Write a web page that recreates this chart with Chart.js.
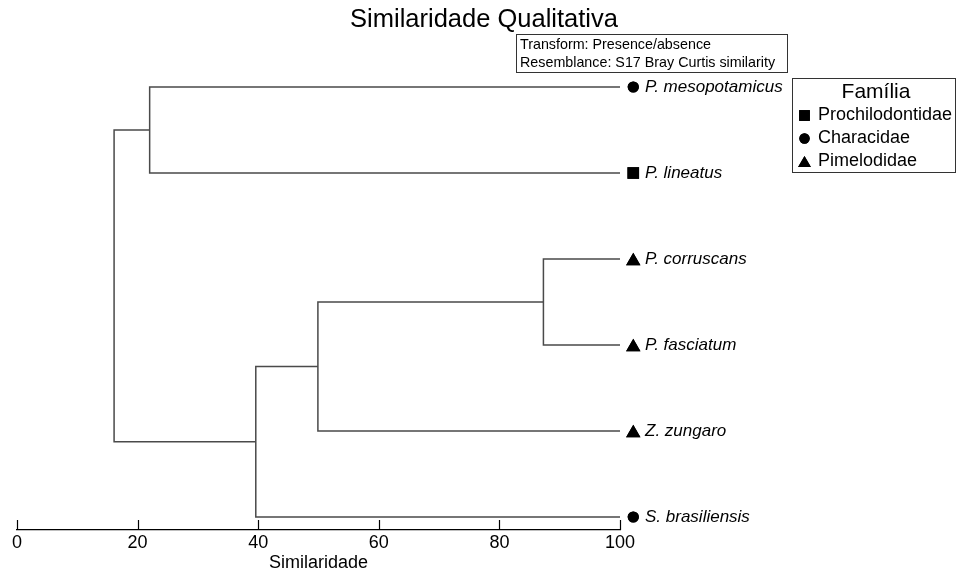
<!DOCTYPE html>
<html><head><meta charset="utf-8">
<script src="https://cdn.jsdelivr.net/npm/chart.js@4/dist/chart.umd.min.js"></script>
<style>html,body{margin:0;padding:0;background:#fff}#wrap{width:957px;height:577px}</style>
</head><body><div id="wrap"><canvas id="c" width="957" height="577"></canvas></div>
<script>
const chartTitle = 'Similaridade Qualitativa';
const infoLines = ['Transform: Presence/absence', 'Resemblance: S17 Bray Curtis similarity'];
const species = ['P. mesopotamicus', 'P. lineatus', 'P. corruscans', 'P. fasciatum', 'Z. zungaro', 'S. brasiliensis'];
const speciesFamily = ['Characidae', 'Prochilodontidae', 'Pimelodidae', 'Pimelodidae', 'Pimelodidae', 'Characidae'];
const families = ['Prochilodontidae', 'Characidae', 'Pimelodidae'];
const familySymbols = ['rect', 'circle', 'triangle'];
const legendTitle = 'Família';
// merges: negative = leaf (1-based), positive = earlier merge (1-based)
const mergeLeft = [-1, -3, 2, 3, 1];
const mergeRight = [-2, -4, -5, -6, 4];
const mergeSimilarity = [22.0, 87.3, 49.9, 39.6, 16.1];
const leafSimilarity = 100;
const markerSimilarity = 102.2;
const xTicks = [0, 20, 40, 60, 80, 100];
const xTitle = 'Similaridade';

const FONT = "'Liberation Sans', Arial, sans-serif";
const LINE = '#4a4a4a';

// compute node positions
const mergeY = [];
function nodeInfo(id) {
  if (id < 0) return { x: leafSimilarity, y: -id - 1 };
  return { x: mergeSimilarity[id - 1], y: mergeY[id - 1] };
}
const datasets = [];
for (let i = 0; i < mergeSimilarity.length; i++) {
  const a = nodeInfo(mergeLeft[i]);
  const b = nodeInfo(mergeRight[i]);
  const h = mergeSimilarity[i];
  mergeY.push((a.y + b.y) / 2);
  datasets.push({
    type: 'scatter', showLine: true, borderColor: LINE, borderWidth: 1.5,
    pointRadius: 0, fill: false,
    data: [{ x: a.x, y: a.y }, { x: h, y: a.y }, { x: h, y: b.y }, { x: b.x, y: b.y }]
  });
}
const symbolRadius = { rect: 8.2, circle: 5.6, triangle: 8.3 };
const legendRadius = { rect: 7.6, circle: 5.2, triangle: 7.4 };

function drawSymbol(ctx, style, r, x, y) {
  const dy = style === 'triangle' ? r * 0.25 : 0;
  ctx.beginPath();
  Chart.helpers.drawPoint(ctx, { pointStyle: style, radius: r, rotation: 0, borderWidth: 0 }, x, y + dy);
  ctx.fillStyle = '#000';
  ctx.fill();
}

const decor = {
  id: 'decor',
  afterDraw(chart) {
    const ctx = chart.ctx;
    const xs = chart.scales.x, ys = chart.scales.y;
    ctx.save();
    // title
    ctx.fillStyle = '#000';
    ctx.font = '25.5px ' + FONT;
    ctx.textAlign = 'center'; ctx.textBaseline = 'middle';
    ctx.fillText(chartTitle, 484, 20);
    // info box
    ctx.strokeStyle = '#333'; ctx.lineWidth = 1;
    ctx.strokeRect(516.5, 34.5, 271, 38);
    ctx.font = '14.3px ' + FONT;
    ctx.textAlign = 'left';
    ctx.fillText(infoLines[0], 520, 45.5);
    ctx.fillText(infoLines[1], 520, 63);
    // legend box
    ctx.strokeRect(792.5, 78.5, 163, 94);
    ctx.font = '21px ' + FONT;
    ctx.textAlign = 'center';
    ctx.fillText(legendTitle, 876, 92);
    ctx.font = '18px ' + FONT;
    ctx.textAlign = 'left';
    families.forEach((f, i) => {
      const yy = 115.5 + i * 23;
      drawSymbol(ctx, familySymbols[i], legendRadius[familySymbols[i]], 804.5, yy);
      ctx.fillStyle = '#000';
      ctx.fillText(f, 818, yy);
    });
    // leaf markers and labels
    const mx = xs.getPixelForValue(markerSimilarity);
    species.forEach((s, i) => {
      const py = ys.getPixelForValue(i);
      const st = familySymbols[families.indexOf(speciesFamily[i])];
      drawSymbol(ctx, st, symbolRadius[st], mx, py);
    });
    ctx.fillStyle = '#000';
    ctx.font = 'italic 17px ' + FONT;
    species.forEach((s, i) => {
      ctx.fillText(s, 645, ys.getPixelForValue(i) + 0.5);
    });
    // upward tick marks
    ctx.strokeStyle = '#000'; ctx.lineWidth = 1.2;
    const b = chart.chartArea.bottom;
    xTicks.forEach(v => {
      const px = Math.round(xs.getPixelForValue(v)) + 0.5;
      ctx.beginPath(); ctx.moveTo(px, b); ctx.lineTo(px, b - 10); ctx.stroke();
    });
    ctx.restore();
  }
};

new Chart(document.getElementById('c'), {
  type: 'scatter',
  data: { datasets },
  options: {
    responsive: false, animation: false, devicePixelRatio: 1,
    layout: { padding: { left: 17, right: 337, top: 30, bottom: 0 } },
    plugins: { legend: { display: false }, title: { display: false }, tooltip: { enabled: false } },
    scales: {
      x: {
        type: 'linear', min: 0, max: 100,
        afterBuildTicks: s => { s.ticks = xTicks.map(v => ({ value: v })); },
        afterFit: s => { s.height = 47; },
        grid: { display: false, drawTicks: false, tickLength: 0 },
        border: { display: true, color: '#000', width: 1.2 },
        ticks: { color: '#000', font: { family: FONT, size: 18 }, padding: 2, maxRotation: 0 },
        title: { display: true, text: xTitle, color: '#000', font: { family: FONT, size: 18 }, padding: { top: 0, bottom: 3 } }
      },
      y: {
        type: 'linear', reverse: true, min: -0.6628, max: 5.151, display: false
      }
    }
  },
  plugins: [decor]
});
</script></body></html>
